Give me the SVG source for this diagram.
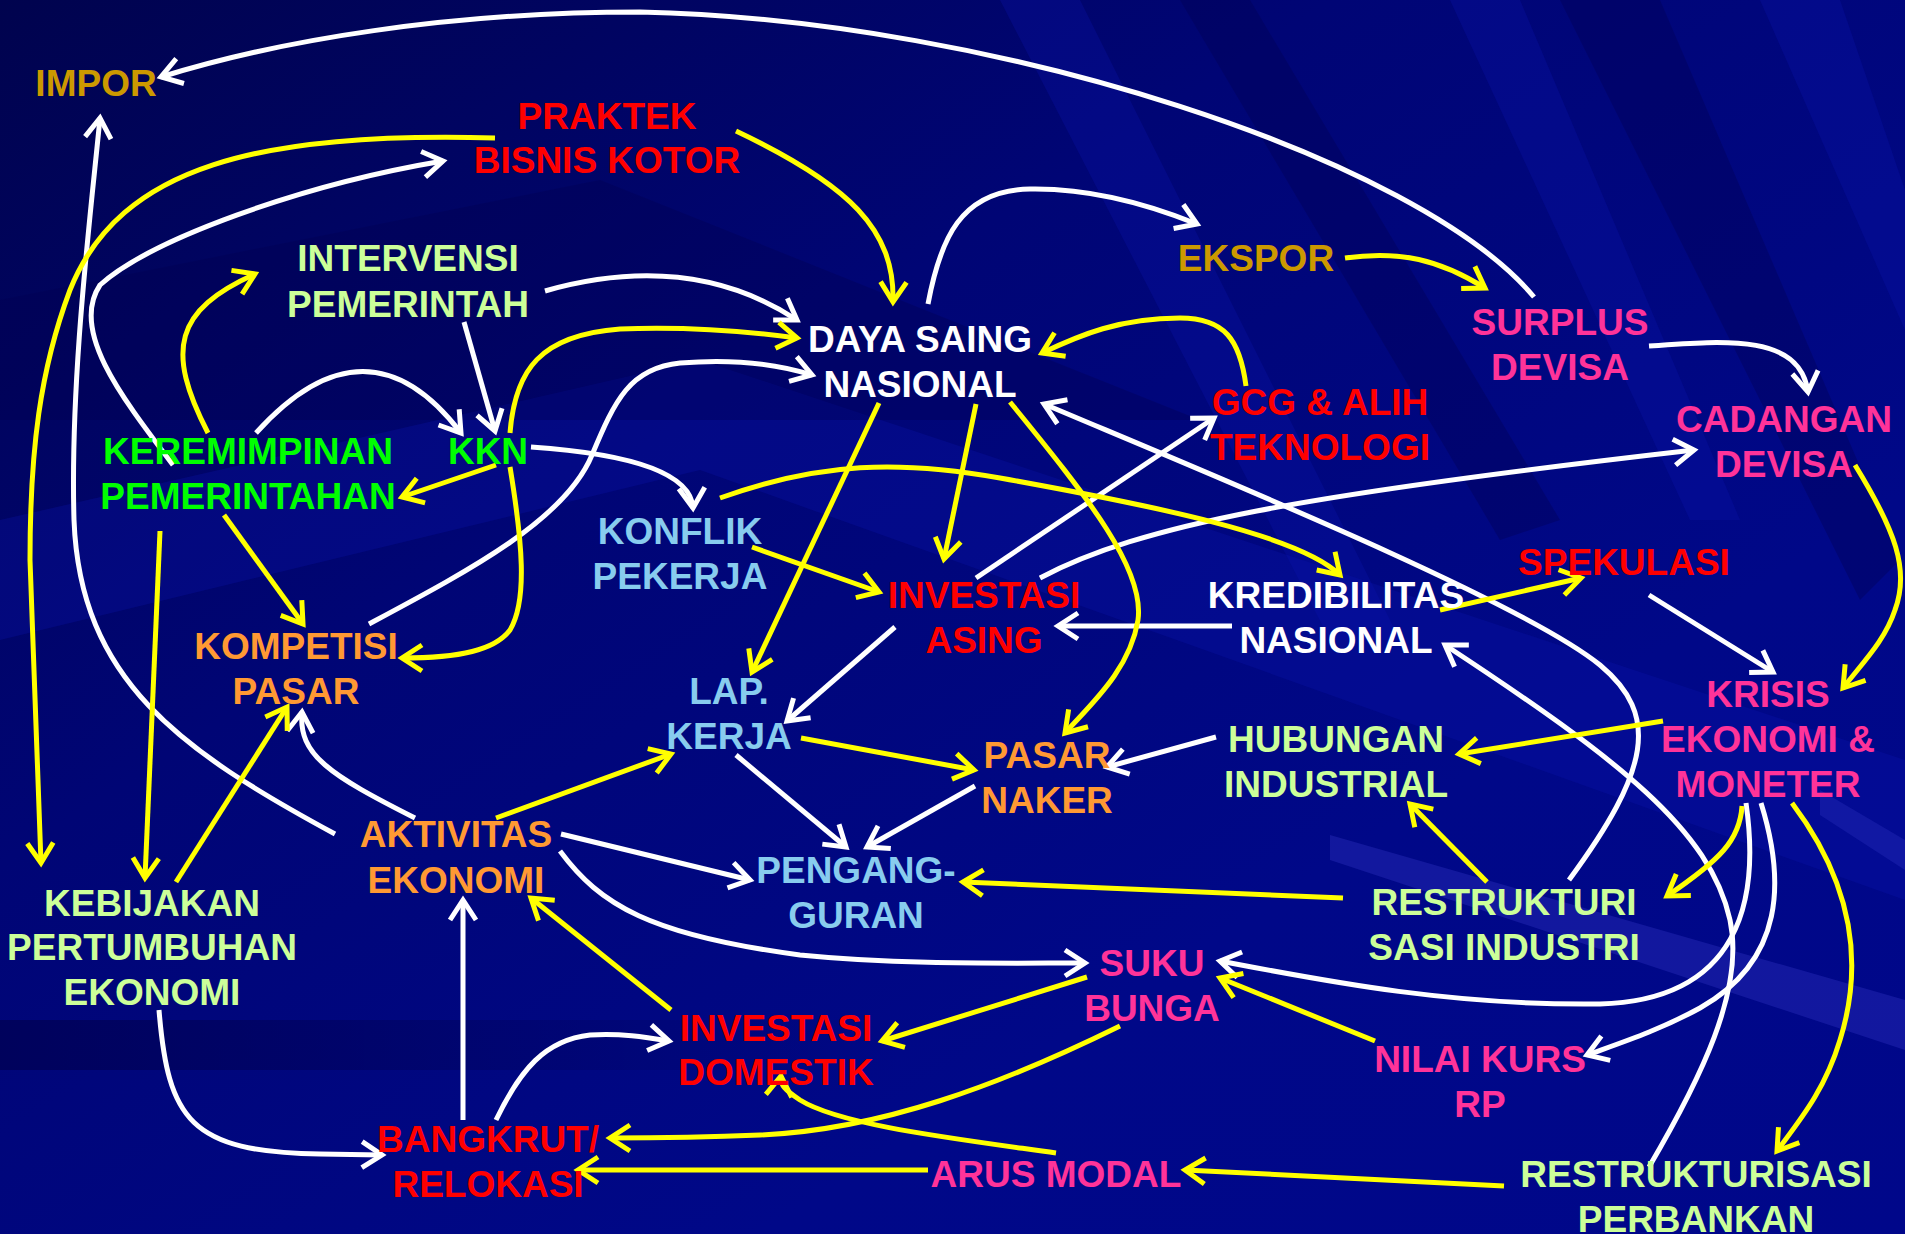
<svg xmlns="http://www.w3.org/2000/svg" width="1905" height="1234" viewBox="0 0 1905 1234">
<defs>
<linearGradient id="bg" x1="0" y1="0" x2="1" y2="1">
<stop offset="0" stop-color="#00034e"/>
<stop offset="0.35" stop-color="#000575"/>
<stop offset="0.7" stop-color="#000888"/>
<stop offset="1" stop-color="#00078a"/>
</linearGradient>
<linearGradient id="band" x1="0" y1="0" x2="1" y2="0">
<stop offset="0" stop-color="#000050" stop-opacity="0.7"/>
<stop offset="1" stop-color="#000050" stop-opacity="0"/>
</linearGradient>
<marker id="aw" markerUnits="userSpaceOnUse" viewBox="-30 -20 40 40" markerWidth="40" markerHeight="40" refX="0" refY="0" orient="auto" overflow="visible">
<path d="M-20,-13 L0,0 L-20,13" fill="none" stroke="#ffffff" stroke-width="5"/>
</marker>
<marker id="ay" markerUnits="userSpaceOnUse" viewBox="-30 -20 40 40" markerWidth="40" markerHeight="40" refX="0" refY="0" orient="auto" overflow="visible">
<path d="M-20,-13 L0,0 L-20,13" fill="none" stroke="#ffff00" stroke-width="5"/>
</marker>
</defs>
<style>
text{font-family:"Liberation Sans",Arial,sans-serif;font-weight:bold;font-size:37px;text-anchor:middle}
.gold{fill:#cc9900}.red{fill:#ff0000}.lg{fill:#ccff99}.wh{fill:#ffffff}.pk{fill:#ff3399}.gr{fill:#00ff00}.lb{fill:#88ccee}.or{fill:#ff9933}
.w{fill:none;stroke:#ffffff;stroke-width:5;marker-end:url(#aw)}
.y{fill:none;stroke:#ffff00;stroke-width:5;marker-end:url(#ay)}
.st{fill:#0a14b0;opacity:0.28}
.dk{fill:#000050;opacity:0.35}
</style>
<g id="background">
<rect x="0" y="0" width="1905" height="1234" fill="url(#bg)"/>
<polygon class="st" points="1000,0 1080,0 1400,640 1330,640"/>
<polygon class="st" points="1450,0 1520,0 1740,520 1690,520"/>
<polygon class="dk" points="1560,0 1660,0 1900,560 1860,600"/>
<polygon class="st" points="1760,0 1840,0 1905,190 1905,330"/>
<polygon class="dk" points="1180,0 1250,0 1560,520 1500,540"/>
<polygon class="st" points="0,520 700,360 1905,760 1905,900 700,470 0,640"/>
<polygon class="dk" points="0,300 600,180 1200,420 0,420"/>
<rect x="0" y="1020" width="900" height="50" fill="url(#band)"/>
<polygon fill="#3a40d0" opacity="0.3" points="1330,835 1905,1000 1905,1050 1330,860"/>
<polygon fill="#3a40d0" opacity="0.25" points="1820,790 1905,840 1905,870 1820,815"/>
</g>
<g id="connectors">
<!-- white -->
<path class="w" d="M1534,297 C1420,160 1000,20 640,12 C450,12 280,40 161,77"/>
<path class="w" d="M173,465 C120,395 70,330 100,285 C150,240 300,185 443,161"/>
<path class="w" d="M335,834 C180,750 80,680 74,520 C70,380 90,220 100,118"/>
<path class="w" d="M545,291 Q690,250 797,320"/>
<path class="w" d="M464,322 L495,431"/>
<path class="w" d="M256,433 Q367,310 461,433"/>
<path class="w" d="M531,447 Q690,458 693,508"/>
<path class="w" d="M369,624 C470,570 565,520 592,455 C615,400 630,368 680,363 C740,358 780,365 812,375"/>
<path class="w" d="M928,304 C940,240 960,190 1030,189 C1090,188 1150,205 1197,224"/>
<path class="w" d="M1649,346 C1730,340 1800,335 1808,392"/>
<path class="w" d="M976,578 L1214,418"/>
<path class="w" d="M1040,578 C1140,525 1300,495 1694,450"/>
<path class="w" d="M1232,626 L1058,626"/>
<path class="w" d="M895,627 L787,721"/>
<path class="w" d="M736,755 L846,847"/>
<path class="w" d="M975,786 L867,847"/>
<path class="w" d="M1216,737 L1107,767"/>
<path class="w" d="M561,834 L750,880"/>
<path class="w" d="M415,818 C330,775 298,755 302,712"/>
<path class="w" d="M560,851 C600,905 650,935 800,955 C900,965 1000,963 1085,963"/>
<path class="w" d="M1649,595 L1773,672"/>
<path class="w" d="M1569,880 C1650,770 1660,715 1600,665 C1520,600 1200,470 1044,404"/>
<path class="w" d="M1649,1167 C1700,1080 1745,990 1730,920 C1710,830 1620,760 1445,645"/>
<path class="w" d="M1746,803 C1760,900 1740,1000 1600,1004 C1450,1006 1320,980 1220,961"/>
<path class="w" d="M1761,803 C1785,880 1785,960 1700,1008 C1660,1030 1620,1043 1587,1055"/>
<path class="w" d="M159,1010 C168,1120 190,1152 320,1154 L382,1155"/>
<path class="w" d="M463,1120 L463,900"/>
<path class="w" d="M496,1120 C520,1070 545,1040 590,1035 C620,1033 645,1037 669,1041"/>
<!-- yellow -->
<path class="y" d="M495,138 C260,132 120,165 70,290 C40,370 30,450 30,560 L41,863"/>
<path class="y" d="M736,131 C850,185 895,230 893,302"/>
<path class="y" d="M208,433 C165,350 175,310 255,274"/>
<path class="y" d="M496,465 L402,497"/>
<path class="y" d="M510,433 C515,370 540,335 620,329 C700,326 760,333 797,338"/>
<path class="y" d="M510,467 C522,540 528,600 510,630 C495,650 460,658 402,658"/>
<path class="y" d="M224,515 L303,624"/>
<path class="y" d="M160,531 L145,878"/>
<path class="y" d="M176,882 L287,707"/>
<path class="y" d="M1246,386 C1240,340 1225,318 1180,318 C1120,318 1080,335 1042,353"/>
<path class="y" d="M1345,258 C1400,250 1440,260 1485,288"/>
<path class="y" d="M720,498 C820,462 900,460 1000,478 C1150,505 1300,535 1340,575"/>
<path class="y" d="M752,547 L879,592"/>
<path class="y" d="M976,404 L944,559"/>
<path class="y" d="M879,403 L752,672"/>
<path class="y" d="M1010,402 C1090,500 1145,570 1138,620 C1130,670 1090,705 1065,733"/>
<path class="y" d="M1440,610 L1581,578"/>
<path class="y" d="M1855,465 C1895,530 1910,570 1895,610 C1885,640 1865,660 1843,688"/>
<path class="y" d="M1663,721 L1459,754"/>
<path class="y" d="M1742,806 C1740,840 1720,860 1667,896"/>
<path class="y" d="M1792,803 C1850,880 1865,960 1840,1040 C1825,1090 1800,1120 1777,1151"/>
<path class="y" d="M1487,882 L1410,804"/>
<path class="y" d="M1343,898 L963,882"/>
<path class="y" d="M801,738 L974,770"/>
<path class="y" d="M496,818 L671,754"/>
<path class="y" d="M671,1010 L531,898"/>
<path class="y" d="M1087,977 L882,1041"/>
<path class="y" d="M1120,1026 C1000,1085 880,1130 760,1135 C690,1138 650,1138 610,1138"/>
<path class="y" d="M1056,1153 C950,1138 840,1125 800,1100 C785,1090 780,1085 781,1076"/>
<path class="y" d="M928,1170 L578,1170"/>
<path class="y" d="M1504,1186 L1185,1170"/>
<path class="y" d="M1375,1041 L1220,978"/>
</g>
<g id="n-impor"><text class="gold" x="96" y="96">IMPOR</text></g>
<g id="n-praktek"><text class="red"><tspan x="607" y="129">PRAKTEK</tspan><tspan x="607" y="173">BISNIS KOTOR</tspan></text></g>
<g id="n-intervensi"><text class="lg"><tspan x="408" y="271">INTERVENSI</tspan><tspan x="408" y="317">PEMERINTAH</tspan></text></g>
<g id="n-dayasaing"><text class="wh"><tspan x="920" y="352">DAYA SAING</tspan><tspan x="920" y="397">NASIONAL</tspan></text></g>
<g id="n-ekspor"><text class="gold" x="1256" y="271">EKSPOR</text></g>
<g id="n-surplus"><text class="pk"><tspan x="1560" y="335">SURPLUS</tspan><tspan x="1560" y="380">DEVISA</tspan></text></g>
<g id="n-cadangan"><text class="pk"><tspan x="1784" y="432">CADANGAN</tspan><tspan x="1784" y="477">DEVISA</tspan></text></g>
<g id="n-kepemimpinan"><text class="gr"><tspan x="248" y="464">KEREMIMPINAN</tspan><tspan x="248" y="509">PEMERINTAHAN</tspan></text></g>
<g id="n-kkn"><text class="gr" x="488" y="464">KKN</text></g>
<g id="n-gcg"><text class="red"><tspan x="1320" y="415">GCG &amp; ALIH</tspan><tspan x="1320" y="460">TEKNOLOGI</tspan></text></g>
<g id="n-konflik"><text class="lb"><tspan x="680" y="544">KONFLIK</tspan><tspan x="680" y="589">PEKERJA</tspan></text></g>
<g id="n-invasing"><text class="red"><tspan x="984" y="608">INVESTASI</tspan><tspan x="984" y="653">ASING</tspan></text></g>
<g id="n-kredibilitas"><text class="wh"><tspan x="1336" y="608">KREDIBILITAS</tspan><tspan x="1336" y="653">NASIONAL</tspan></text></g>
<g id="n-spekulasi"><text class="red" x="1624" y="575">SPEKULASI</text></g>
<g id="n-kompetisi"><text class="or"><tspan x="296" y="659">KOMPETISI</tspan><tspan x="296" y="704">PASAR</tspan></text></g>
<g id="n-lapkerja"><text class="lb"><tspan x="729" y="704">LAP.</tspan><tspan x="729" y="749">KERJA</tspan></text></g>
<g id="n-krisis"><text class="pk"><tspan x="1768" y="707">KRISIS</tspan><tspan x="1768" y="752">EKONOMI &amp;</tspan><tspan x="1768" y="797">MONETER</tspan></text></g>
<g id="n-pasarnaker"><text class="or"><tspan x="1047" y="768">PASAR</tspan><tspan x="1047" y="813">NAKER</tspan></text></g>
<g id="n-hubungan"><text class="lg"><tspan x="1336" y="752">HUBUNGAN</tspan><tspan x="1336" y="797">INDUSTRIAL</tspan></text></g>
<g id="n-aktivitas"><text class="or"><tspan x="456" y="847">AKTIVITAS</tspan><tspan x="456" y="893">EKONOMI</tspan></text></g>
<g id="n-pengangguran"><text class="lb"><tspan x="856" y="883">PENGANG-</tspan><tspan x="856" y="928">GURAN</tspan></text></g>
<g id="n-kebijakan"><text class="lg"><tspan x="152" y="916">KEBIJAKAN</tspan><tspan x="152" y="960">PERTUMBUHAN</tspan><tspan x="152" y="1005">EKONOMI</tspan></text></g>
<g id="n-restindustri"><text class="lg"><tspan x="1504" y="915">RESTRUKTURI</tspan><tspan x="1504" y="960">SASI INDUSTRI</tspan></text></g>
<g id="n-sukubunga"><text class="pk"><tspan x="1152" y="976">SUKU</tspan><tspan x="1152" y="1021">BUNGA</tspan></text></g>
<g id="n-invdomestik"><text class="red"><tspan x="776" y="1041">INVESTASI</tspan><tspan x="776" y="1085">DOMESTIK</tspan></text></g>
<g id="n-nilaikurs"><text class="pk"><tspan x="1480" y="1072">NILAI KURS</tspan><tspan x="1480" y="1117">RP</tspan></text></g>
<g id="n-bangkrut"><text class="red"><tspan x="488" y="1152">BANGKRUT/</tspan><tspan x="488" y="1197">RELOKASI</tspan></text></g>
<g id="n-arusmodal"><text class="pk" x="1056" y="1187">ARUS MODAL</text></g>
<g id="n-restperbankan"><text class="lg"><tspan x="1696" y="1187">RESTRUKTURISASI</tspan><tspan x="1696" y="1232">PERBANKAN</tspan></text></g>
</svg>
